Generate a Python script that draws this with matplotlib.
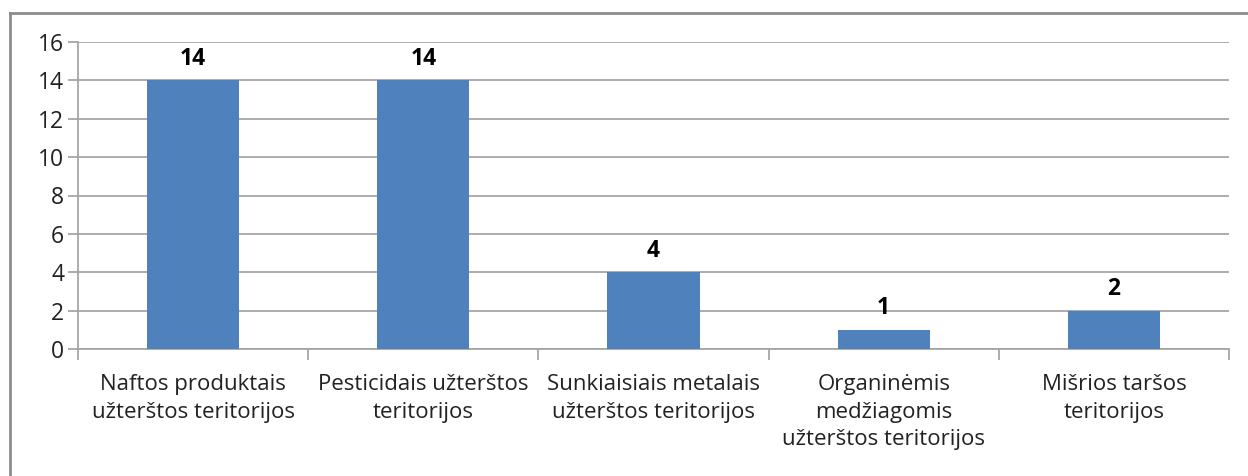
import matplotlib
matplotlib.use("Agg")
import matplotlib.pyplot as plt
from matplotlib.lines import Line2D

categories = [
    "Naftos produktais\nužterštos teritorijos",
    "Pesticidais užterštos\nteritorijos",
    "Sunkiaisiais metalais\nužterštos teritorijos",
    "Organinėmis\nmedžiagomis\nužterštos teritorijos",
    "Mišrios taršos\nteritorijos",
]
values = [14, 14, 4, 1, 2]
y_ticks = [0, 2, 4, 6, 8, 10, 12, 14, 16]

W, H = 1248, 476
fig = plt.figure(figsize=(W / 100, H / 100), dpi=100)
plt.rcParams['font.family'] = ['Open Sans', 'DejaVu Sans']

# outer frame (left and top edges visible)
fig.add_artist(Line2D([10 / W, 10 / W], [0, 1 - 13 / H], color="#8c8c8c", lw=2, transform=fig.transFigure))
fig.add_artist(Line2D([10 / W, 1], [1 - 13 / H, 1 - 13 / H], color="#8c8c8c", lw=2, transform=fig.transFigure))

left, right, top, bottom = 78, 1229, 42, 349
ax = fig.add_axes([left / W, 1 - bottom / H, (right - left) / W, (bottom - top) / H])

x = list(range(len(categories)))
ax.bar(x, values, width=0.4, color="#4F81BD", zorder=3)
ax.set_xlim(-0.5, len(categories) - 0.5)
ax.set_ylim(0, 16)
ax.set_yticks(y_ticks)
ax.set_yticklabels([str(v) for v in y_ticks], fontsize=16.5, color="#222222")
ax.yaxis.grid(True, color="#a6a6a6", lw=1.3, zorder=0)
ax.set_axisbelow(True)

for s in ["top", "right"]:
    ax.spines[s].set_visible(False)
for s in ["left", "bottom"]:
    ax.spines[s].set_color("#a6a6a6")
    ax.spines[s].set_linewidth(1.3)

ax.tick_params(axis="y", length=7, color="#a6a6a6", width=1.3, pad=3)
# category boundary ticks
ax.set_xticks([i - 0.5 for i in range(len(categories) + 1)])
ax.set_xticklabels([])
ax.tick_params(axis="x", length=8, color="#a6a6a6", width=1.3)

for i, (c, v) in enumerate(zip(categories, values)):
    ax.text(i, -1.3, c, ha="center", va="top", fontsize=16, color="#222222",
            linespacing=1.42)
    ax.text(i, v + 0.5, str(v), ha="center", va="bottom", fontsize=16.5,
            fontweight="bold", color="black")

fig.savefig("out.png", dpi=100, facecolor="white")
